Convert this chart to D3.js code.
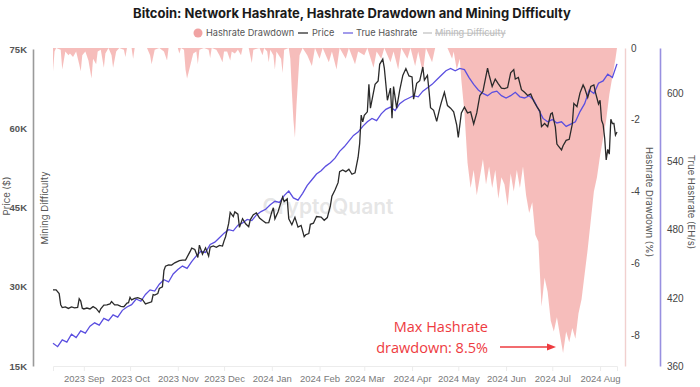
<!DOCTYPE html>
<html>
<head>
<meta charset="utf-8">
<script src="https://cdn.jsdelivr.net/npm/d3@7"></script>
<style>
  body { margin: 0; background: #fff; }
  svg { display: block; font-family: Inter, "Noto Sans", sans-serif; }
</style>
</head>
<body>
<script>
'use strict';

// ---- data ----
const priceData = [
["2023-08-12",29400],["2023-08-14",29400],["2023-08-16",28700],["2023-08-17",26600],["2023-08-18",26050],["2023-08-20",26190],["2023-08-22",25900],["2023-08-24",26170],["2023-08-26",26010],["2023-08-28",26100],["2023-08-29",27730],["2023-08-30",27300],["2023-08-31",25940],
["2023-09-01",25800],["2023-09-03",25970],["2023-09-05",25790],["2023-09-07",26240],["2023-09-09",25900],["2023-09-11",25160],["2023-09-12",25840],["2023-09-14",26530],["2023-09-16",26570],["2023-09-18",26760],["2023-09-19",27210],["2023-09-21",26580],["2023-09-23",26580],["2023-09-25",26300],["2023-09-27",26220],["2023-09-29",26910],["2023-09-30",26970],
["2023-10-01",27990],["2023-10-02",27500],["2023-10-04",27780],["2023-10-06",27930],["2023-10-09",27600],["2023-10-11",26760],["2023-10-12",26860],["2023-10-15",27160],["2023-10-16",28520],["2023-10-17",28420],["2023-10-19",28710],["2023-10-20",29680],["2023-10-22",29990],["2023-10-23",33090],["2023-10-24",33900],["2023-10-26",34150],["2023-10-28",34090],["2023-10-30",34530],
["2023-11-02",34940],["2023-11-04",35050],["2023-11-06",35050],["2023-11-09",36690],["2023-11-10",37310],["2023-11-12",37060],["2023-11-14",35550],["2023-11-15",37880],["2023-11-17",36160],["2023-11-19",37370],["2023-11-21",35800],["2023-11-22",37480],["2023-11-24",37720],["2023-11-26",37470],["2023-11-28",37830],["2023-11-30",37710],
["2023-12-01",38690],["2023-12-02",39470],["2023-12-04",41980],["2023-12-05",44080],["2023-12-07",43290],["2023-12-08",44170],["2023-12-10",43730],["2023-12-11",41240],["2023-12-13",42890],["2023-12-15",41930],["2023-12-17",41360],["2023-12-18",42660],["2023-12-20",43650],["2023-12-22",43970],["2023-12-24",43010],["2023-12-26",42520],["2023-12-28",42100],["2023-12-30",42150],
["2024-01-01",44180],["2024-01-02",44950],["2024-01-03",42850],["2024-01-05",44150],["2024-01-08",46970],["2024-01-09",46120],["2024-01-11",46630],["2024-01-12",42850],["2024-01-14",41730],["2024-01-16",43140],["2024-01-18",41290],["2024-01-20",41620],["2024-01-22",39500],["2024-01-23",39850],["2024-01-25",40080],["2024-01-26",41820],["2024-01-28",42030],["2024-01-30",43300],
["2024-02-02",43200],["2024-02-04",42580],["2024-02-06",43090],["2024-02-08",45300],["2024-02-09",47150],["2024-02-11",48300],["2024-02-13",49700],["2024-02-14",51800],["2024-02-16",52120],["2024-02-18",51780],["2024-02-20",52260],["2024-02-22",51300],["2024-02-24",51570],["2024-02-26",54520],["2024-02-27",57080],["2024-02-28",62500],["2024-02-29",61200],
["2024-03-01",62440],["2024-03-03",63110],["2024-03-04",68330],["2024-03-05",63800],["2024-03-07",66850],["2024-03-08",68300],["2024-03-10",68960],["2024-03-11",72100],["2024-03-13",73080],["2024-03-14",71400],["2024-03-16",65300],["2024-03-18",67600],["2024-03-19",61900],["2024-03-20",67900],["2024-03-22",63800],["2024-03-24",67200],["2024-03-26",70000],["2024-03-28",71300],["2024-03-30",69900],
["2024-04-01",69700],["2024-04-02",65500],["2024-04-04",68500],["2024-04-06",69000],["2024-04-08",71600],["2024-04-09",69100],["2024-04-11",70000],["2024-04-12",67100],["2024-04-13",63900],["2024-04-15",63400],["2024-04-17",61300],["2024-04-19",63800],["2024-04-20",64900],["2024-04-22",66800],["2024-04-24",64300],["2024-04-26",63800],["2024-04-28",63100],["2024-04-30",60600],
["2024-05-01",58250],["2024-05-03",62900],["2024-05-05",64000],["2024-05-07",62900],["2024-05-09",63100],["2024-05-11",60800],["2024-05-13",62900],["2024-05-15",66200],["2024-05-17",67000],["2024-05-20",71400],["2024-05-21",70100],["2024-05-23",67900],["2024-05-25",69300],["2024-05-27",68400],["2024-05-29",67600],["2024-05-31",67500],
["2024-06-02",67700],["2024-06-04",70500],["2024-06-06",71100],["2024-06-07",69300],["2024-06-09",69600],["2024-06-11",67300],["2024-06-13",66800],["2024-06-15",66200],["2024-06-17",66500],["2024-06-19",65100],["2024-06-21",64100],["2024-06-23",63200],["2024-06-24",60300],["2024-06-26",60900],["2024-06-28",60300],["2024-06-30",62700],
["2024-07-01",62900],["2024-07-03",60200],["2024-07-04",57000],["2024-07-05",56600],["2024-07-07",55900],["2024-07-08",56700],["2024-07-10",57700],["2024-07-12",57900],["2024-07-14",60800],["2024-07-15",64700],["2024-07-17",64100],["2024-07-19",66700],["2024-07-21",68200],["2024-07-22",67600],["2024-07-24",65800],["2024-07-26",67900],["2024-07-28",68200],["2024-07-29",66800],["2024-07-31",64600],
["2024-08-01",65300],["2024-08-02",61500],["2024-08-03",60700],["2024-08-04",58100],["2024-08-05",54000],["2024-08-06",56000],["2024-08-07",55100],["2024-08-08",61700],["2024-08-09",60900],["2024-08-10",60900],["2024-08-11",58700],["2024-08-12",59300]
];

const hashrateData = [
["2023-08-12",380],["2023-08-15",377],["2023-08-18",383],["2023-08-21",381],["2023-08-24",388],["2023-08-27",385],["2023-08-30",391],["2023-09-02",389],["2023-09-05",395],["2023-09-08",398],["2023-09-11",396],["2023-09-14",402],["2023-09-17",400],["2023-09-20",405],["2023-09-23",403],["2023-09-26",409],["2023-09-29",412],
["2023-10-02",414],["2023-10-05",419],["2023-10-08",417],["2023-10-11",423],["2023-10-14",427],["2023-10-17",426],["2023-10-20",432],["2023-10-23",436],["2023-10-26",434],["2023-10-29",441],
["2023-11-01",445],["2023-11-04",448],["2023-11-07",446],["2023-11-10",452],["2023-11-13",457],["2023-11-16",461],["2023-11-19",460],["2023-11-22",467],["2023-11-25",469],["2023-11-28",473],
["2023-12-01",477],["2023-12-04",480],["2023-12-07",479],["2023-12-10",484],["2023-12-13",486],["2023-12-16",489],["2023-12-19",488],["2023-12-22",493],["2023-12-25",496],["2023-12-28",498],["2023-12-31",502],
["2024-01-03",505],["2024-01-06",504],["2024-01-09",510],["2024-01-12",514],["2024-01-15",508],["2024-01-18",506],["2024-01-21",512],["2024-01-24",519],["2024-01-27",524],["2024-01-30",529],
["2024-02-02",532],["2024-02-05",536],["2024-02-08",539],["2024-02-11",543],["2024-02-14",549],["2024-02-17",553],["2024-02-20",558],["2024-02-23",563],["2024-02-26",566],["2024-02-29",571],
["2024-03-03",575],["2024-03-06",578],["2024-03-09",576],["2024-03-12",582],["2024-03-15",586],["2024-03-18",588],["2024-03-21",585],["2024-03-24",591],["2024-03-27",594],["2024-03-30",596],
["2024-04-02",598],["2024-04-05",597],["2024-04-08",602],["2024-04-11",605],["2024-04-14",608],["2024-04-17",612],["2024-04-20",616],["2024-04-23",620],["2024-04-26",622],["2024-04-29",620],
["2024-05-02",622],["2024-05-05",621],["2024-05-08",614],["2024-05-11",608],["2024-05-14",603],["2024-05-17",600],["2024-05-20",598],["2024-05-23",601],["2024-05-26",602],["2024-05-29",598],
["2024-06-01",596],["2024-06-04",598],["2024-06-07",601],["2024-06-10",597],["2024-06-13",596],["2024-06-16",598],["2024-06-19",594],["2024-06-22",586],["2024-06-25",578],["2024-06-28",575],
["2024-07-01",577],["2024-07-04",574],["2024-07-07",575],["2024-07-10",571],["2024-07-13",573],["2024-07-16",575],["2024-07-19",584],["2024-07-22",591],["2024-07-25",603],["2024-07-28",600],["2024-07-31",609],
["2024-08-03",611],["2024-08-06",617],["2024-08-09",614],["2024-08-12",626]
];

const drawdownData = [
["2023-08-12",-0.65],["2023-08-13",-0.1],["2023-08-14",0],["2023-08-17",-0.05],["2023-08-18",-0.6],["2023-08-20",-0.1],["2023-08-22",-0.2],["2023-08-23",-0.15],["2023-08-25",-0.25],["2023-08-27",-0.1],["2023-08-29",-0.45],["2023-08-30",-0.65],["2023-08-31",-0.2],
["2023-09-02",-0.1],["2023-09-04",-0.35],["2023-09-06",-0.85],["2023-09-07",-0.3],["2023-09-09",-0.45],["2023-09-10",-0.1],["2023-09-12",-0.05],["2023-09-14",-0.55],["2023-09-15",-0.15],["2023-09-17",0],["2023-09-19",-0.2],["2023-09-20",-0.55],["2023-09-22",-0.1],["2023-09-24",0],["2023-09-27",-0.05],["2023-09-28",-0.25],["2023-09-29",0],
["2023-10-02",0],["2023-10-03",-0.3],["2023-10-04",0],["2023-10-12",0],["2023-10-14",-0.2],["2023-10-15",-0.45],["2023-10-17",-0.05],["2023-10-20",0],["2023-10-23",-0.1],["2023-10-25",-0.35],["2023-10-26",0],
["2023-11-01",0],["2023-11-02",-0.15],["2023-11-03",0],["2023-11-05",-0.05],["2023-11-06",-0.6],["2023-11-07",-0.85],["2023-11-09",-0.5],["2023-11-11",-0.15],["2023-11-13",-0.1],["2023-11-14",-0.45],["2023-11-15",-0.05],["2023-11-18",0],["2023-11-21",-0.05],["2023-11-22",-0.28],["2023-11-23",0],["2023-11-26",-0.05],["2023-11-28",-0.2],["2023-11-30",-0.4],
["2023-12-01",-0.1],["2023-12-03",-0.1],["2023-12-05",-0.35],["2023-12-06",-0.1],["2023-12-08",-0.15],["2023-12-10",-0.05],["2023-12-12",-0.2],["2023-12-13",0],["2023-12-17",0],["2023-12-19",-0.42],["2023-12-20",-0.05],["2023-12-24",0],["2023-12-26",-0.2],["2023-12-27",0],["2023-12-29",-0.1],["2023-12-30",-0.4],["2023-12-31",-0.05],
["2024-01-02",-0.2],["2024-01-03",-0.6],["2024-01-04",-0.1],["2024-01-07",-0.3],["2024-01-08",-0.7],["2024-01-09",-0.05],["2024-01-12",0],["2024-01-13",-0.3],["2024-01-14",-1.2],["2024-01-15",-2.0],["2024-01-16",-2.5],["2024-01-17",-1.6],["2024-01-18",-0.9],["2024-01-19",-0.2],["2024-01-21",0],
["2024-01-24",-0.2],["2024-01-27",-0.5],["2024-01-29",0],["2024-02-01",-0.3],["2024-02-03",0],["2024-02-07",-0.4],["2024-02-09",-0.1],["2024-02-12",-0.6],["2024-02-14",0],["2024-02-18",-0.3],["2024-02-20",0],["2024-02-24",-0.45],["2024-02-26",-0.1],
["2024-03-01",-0.2],["2024-03-03",0],["2024-03-07",-0.55],["2024-03-09",-0.1],["2024-03-12",-0.3],["2024-03-14",0],["2024-03-18",-0.4],["2024-03-20",-0.1],["2024-03-23",-0.6],["2024-03-25",0],["2024-03-29",-0.3],["2024-03-31",0],
["2024-04-03",-0.5],["2024-04-05",-0.1],["2024-04-08",-0.7],["2024-04-10",0],["2024-04-14",-0.4],["2024-04-16",0],["2024-04-24",0],["2024-04-27",-0.3],["2024-04-28",-0.1],["2024-04-30",-0.6],
["2024-05-02",-0.3],["2024-05-03",-0.9],["2024-05-05",-1.8],["2024-05-07",-3.2],["2024-05-09",-3.9],["2024-05-11",-3.4],["2024-05-13",-4.1],["2024-05-15",-3.6],["2024-05-17",-3.1],["2024-05-19",-3.8],["2024-05-21",-3.3],["2024-05-23",-3.9],["2024-05-25",-3.4],["2024-05-27",-4.2],["2024-05-29",-3.6],["2024-05-31",-3.8],
["2024-06-02",-4.4],["2024-06-04",-3.5],["2024-06-06",-4.0],["2024-06-08",-3.4],["2024-06-10",-3.9],["2024-06-12",-3.3],["2024-06-14",-4.1],["2024-06-16",-4.6],["2024-06-18",-4.3],["2024-06-20",-5.2],["2024-06-22",-5.4],["2024-06-24",-7.2],["2024-06-26",-6.4],["2024-06-28",-6.8],["2024-06-30",-7.6],
["2024-07-02",-7.9],["2024-07-04",-7.5],["2024-07-06",-8.0],["2024-07-08",-8.5],["2024-07-10",-7.9],["2024-07-12",-8.2],["2024-07-14",-7.8],["2024-07-16",-8.1],["2024-07-18",-7.4],["2024-07-20",-7.0],["2024-07-22",-6.3],["2024-07-24",-5.6],["2024-07-26",-4.8],["2024-07-28",-4.0],["2024-07-30",-3.6],
["2024-08-01",-3.0],["2024-08-03",-2.5],["2024-08-05",-2.0],["2024-08-07",-1.3],["2024-08-09",-0.8],["2024-08-11",-0.3],["2024-08-12",0]
];

const priceTicks = [15000, 30000, 45000, 60000, 75000];
const drawdownTicks = [0, -2, -4, -6, -8];
const hashrateTicks = [360, 420, 480, 540, 600];
const legendLabels = ["Hashrate Drawdown", "Price", "True Hashrate", "Mining Difficulty"];

(function() {

  const W = 700, H = 387;
  const parse = d3.timeParse("%Y-%m-%d");
  let svg = null;

  window.onload = function() {
    svg = d3.select('body').append('svg')
      .attr('width', W)
      .attr('height', H);

    let maps = drawAxes();
    plotData(maps);
    makeLabels();
    makeLegend();
    makeAnnotation();
  };

  // scales + axes
  function drawAxes() {
    let x = d3.scaleTime()
      .domain([parse("2023-08-12"), parse("2024-08-12")])
      .range([53, 617]);
    let yPrice = d3.scaleLinear().domain([15000, 75000]).range([366, 49]);
    let yDraw = d3.scaleLinear().domain([-8.86, 0]).range([366, 48]);
    let yHash = d3.scaleLinear().domain([360, 640]).range([366, 48]);

    // bottom axis
    let xAxis = d3.axisBottom(x)
      .ticks(d3.timeMonth.every(1))
      .tickFormat(d3.timeFormat("%Y %b"))
      .tickSize(5)
      .tickPadding(4);
    let gx = svg.append('g')
      .attr('transform', 'translate(0,366)')
      .call(xAxis);
    gx.select('.domain').attr('stroke', '#ececec');
    gx.selectAll('.tick line').attr('stroke', '#ececec');
    gx.selectAll('text').attr('fill', '#7a7a7a').style('font-size', '9.5px');

    // left price axis
    let gl = svg.append('g')
      .attr('transform', 'translate(33,0)')
      .call(d3.axisLeft(yPrice).tickValues(priceTicks)
        .tickFormat(d => (d / 1000) + "K").tickSize(0).tickPadding(6));
    gl.select('.domain').attr('stroke', '#9a9a9a').attr('stroke-width', 1.6);
    gl.selectAll('text').attr('fill', '#555').style('font-size', '9.5px').style('font-weight', 600);

    // drawdown axis
    let gd = svg.append('g')
      .attr('transform', 'translate(625,0)')
      .call(d3.axisRight(yDraw).tickValues(drawdownTicks)
        .tickFormat(d => String(d)).tickSize(0).tickPadding(6));
    gd.select('.domain').attr('stroke', '#f1d0cf').attr('stroke-width', 1.4);
    gd.selectAll('text').attr('fill', '#444').style('font-size', '10px');

    // hashrate axis
    let gh = svg.append('g')
      .attr('transform', 'translate(660,0)')
      .call(d3.axisRight(yHash).tickValues(hashrateTicks)
        .tickSize(0).tickPadding(7));
    gh.select('.domain').attr('stroke', '#9890e0').attr('stroke-width', 1.6);
    gh.selectAll('text').attr('fill', '#444').style('font-size', '10px');

    return { x: x, yPrice: yPrice, yDraw: yDraw, yHash: yHash };
  }

  function plotData(m) {
    let dd = drawdownData.map(r => ({ date: parse(r[0]), v: r[1] }));
    let pr = priceData.map(r => ({ date: parse(r[0]), v: r[1] }));
    let hr = hashrateData.map(r => ({ date: parse(r[0]), v: r[1] }));

    let area = d3.area()
      .x(d => m.x(d.date))
      .y0(m.yDraw(0))
      .y1(d => m.yDraw(d.v));

    svg.append('path')
      .datum(dd)
      .attr('d', area)
      .attr('fill', '#f19e9b')
      .attr('fill-opacity', 0.68);

    // watermark
    svg.append('text')
      .attr('x', 328)
      .attr('y', 214)
      .attr('text-anchor', 'middle')
      .style('font-size', '21px')
      .style('font-weight', 600)
      .attr('fill', '#bdbdbd')
      .attr('fill-opacity', 0.4)
      .text('CryptoQuant');

    let hashLine = d3.line().x(d => m.x(d.date)).y(d => m.yHash(d.v));
    svg.append('path')
      .datum(hr)
      .attr('d', hashLine)
      .attr('fill', 'none')
      .attr('stroke', '#5b4fe0')
      .attr('stroke-width', 1.3);

    let priceLine = d3.line().x(d => m.x(d.date)).y(d => m.yPrice(d.v));
    svg.append('path')
      .datum(pr)
      .attr('d', priceLine)
      .attr('fill', 'none')
      .attr('stroke', '#2a2a2a')
      .attr('stroke-width', 1.3);
  }

  function makeLabels() {
    svg.append('text')
      .attr('x', 352)
      .attr('y', 18)
      .attr('text-anchor', 'middle')
      .style('font-size', '13px')
      .style('font-weight', 700)
      .attr('fill', '#1a1a1a')
      .text('Bitcoin: Network Hashrate, Hashrate Drawdown and Mining Difficulty');

    svg.append('text')
      .attr('transform', 'translate(10,196)rotate(-90)')
      .attr('text-anchor', 'middle')
      .style('font-size', '9.5px')
      .attr('fill', '#555')
      .text('Price ($)');

    svg.append('text')
      .attr('transform', 'translate(48,208)rotate(-90)')
      .attr('text-anchor', 'middle')
      .style('font-size', '9.5px')
      .attr('fill', '#555')
      .text('Mining Difficulty');

    svg.append('text')
      .attr('transform', 'translate(646,202)rotate(90)')
      .attr('text-anchor', 'middle')
      .style('font-size', '9.5px')
      .attr('fill', '#555')
      .text('Hashrate Drawdown (%)');

    svg.append('text')
      .attr('transform', 'translate(688,202)rotate(90)')
      .attr('text-anchor', 'middle')
      .style('font-size', '9.5px')
      .attr('fill', '#555')
      .text('True Hashrate (EH/s)');
  }

  function makeLegend() {
    let g = svg.append('g').style('font-size', '9.2px');
    let y = 33;

    g.append('circle').attr('cx', 198).attr('cy', y).attr('r', 4.5).attr('fill', '#f0a3a3');
    g.append('text').attr('x', 206).attr('y', y + 3.2).attr('fill', '#555').text(legendLabels[0]);

    g.append('line').attr('x1', 298).attr('x2', 308).attr('y1', y).attr('y2', y)
      .attr('stroke', '#555').attr('stroke-width', 1.6);
    g.append('text').attr('x', 312).attr('y', y + 3.2).attr('fill', '#555').text(legendLabels[1]);

    g.append('line').attr('x1', 343).attr('x2', 353).attr('y1', y).attr('y2', y)
      .attr('stroke', '#8b82e6').attr('stroke-width', 1.6);
    g.append('text').attr('x', 356).attr('y', y + 3.2).attr('fill', '#555').text(legendLabels[2]);

    g.append('line').attr('x1', 423).attr('x2', 432).attr('y1', y).attr('y2', y)
      .attr('stroke', '#cfcfcf').attr('stroke-width', 1.6);
    g.append('text').attr('x', 435).attr('y', y + 3.2).attr('fill', '#bbb')
      .style('text-decoration', 'line-through').text(legendLabels[3]);
  }

  function makeAnnotation() {
    let red = '#ee3b3f';
    svg.append('text').attr('x', 488).attr('y', 332).attr('text-anchor', 'end')
      .style('font-family', '"Open Sans", sans-serif').style('font-size', '14.5px')
      .attr('fill', red).text('Max Hashrate');
    svg.append('text').attr('x', 488).attr('y', 353).attr('text-anchor', 'end')
      .style('font-family', '"Open Sans", sans-serif').style('font-size', '14.5px')
      .attr('fill', red).text('drawdown: 8.5%');

    svg.append('line').attr('x1', 500).attr('x2', 549).attr('y1', 347).attr('y2', 347)
      .attr('stroke', red).attr('stroke-width', 1.6);
    svg.append('path').attr('d', 'M547,343.5L556,347L547,350.5Z').attr('fill', red);
  }

})();
</script>
</body>
</html>
